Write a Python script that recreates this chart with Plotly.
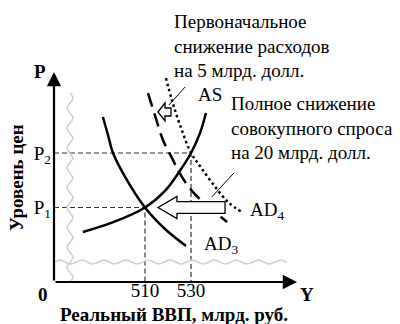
import numpy as np
import plotly.graph_objects as go

FONT = "Liberation Serif"

# ---------------- data (GDP in bn, price level as index: P1=100, P2=120) ----------------
gdp_ticks = [510, 530]
gdp_tick_labels = ["510", "530"]
price_ticks = [100, 120]
price_tick_labels = ["P<sub>1</sub>", "P<sub>2</sub>"]

as_x = [483.0, 496.5, 510.0, 518.7, 524.8, 530.0, 533.9, 536.5]
as_p = [91.0, 94.7, 100.0, 106.1, 113.0, 120.0, 127.3, 134.7]

ad3_x = [491.7, 493.9, 496.1, 500.9, 510.0, 518.7, 527.8]
ad3_p = [133.2, 126.6, 120.0, 111.9, 100.0, 92.1, 85.9]

adm_x = [511.3, 514.3, 517.8, 522.2, 524.8, 530.4, 538.3, 545.7]
adm_p = [142.0, 133.9, 124.8, 117.4, 113.0, 106.1, 99.8, 94.7]

ad4_x = [519.1, 521.7, 525.2, 530.0, 533.9, 539.6, 546.1, 552.2]
ad4_p = [147.5, 139.4, 130.3, 120.0, 115.2, 108.6, 102.0, 98.3]

# axis frame (broken axes)
X0, X_END, X_RIGHT = 470.435, 576.1, 620.87
P0, P_END, P_TOP = 72.661, 149.7, 176.147

fig = go.Figure()

# guide dashed lines
guide = dict(color="#333333", width=1.2, dash="5px,3px")
for gx, gp in zip(gdp_ticks, price_ticks):
    fig.add_trace(go.Scatter(x=[X0, gx, gx], y=[gp, gp, P0], mode="lines",
                             line=guide, hoverinfo="skip"))

# break wiggles (decoration)
t = np.linspace(0, 1, 200)
vy = 142.0 + (P0 - 142.0) * t
vx = 477.4 + 1.3 * np.sin(t * (142.0 - P0) / 7.3 * 2 * np.pi)
fig.add_trace(go.Scatter(x=vx, y=vy, mode="lines",
                         line=dict(color="#cfcfcf", width=1.5), hoverinfo="skip"))
hx = X0 + (571.7 - X0) * t
hy = 80.0 + 0.75 * np.sin(t * (571.7 - X0) / 9.6 * 2 * np.pi)
fig.add_trace(go.Scatter(x=hx, y=hy, mode="lines",
                         line=dict(color="#cfcfcf", width=1.5), hoverinfo="skip"))

# curves
fig.add_trace(go.Scatter(x=as_x, y=as_p, mode="lines", line_shape="spline",
                         line=dict(color="black", width=2.5)))
fig.add_trace(go.Scatter(x=ad3_x, y=ad3_p, mode="lines", line_shape="spline",
                         line=dict(color="black", width=2.5)))
fig.add_trace(go.Scatter(x=adm_x, y=adm_p, mode="lines", line_shape="spline",
                         line=dict(color="black", width=2.5, dash="14px,7px")))
fig.add_trace(go.Scatter(x=ad4_x, y=ad4_p, mode="lines", line_shape="spline",
                         line=dict(color="black", width=2.5, dash="2.5px,3px")))


def block_arrow(tip_x, head_x, tail_x, yc, head_h, shaft_h):
    return (f"M {tip_x},{yc} L {head_x},{yc + head_h} L {head_x},{yc + shaft_h} "
            f"L {tail_x},{yc + shaft_h} L {tail_x},{yc - shaft_h} L {head_x},{yc - shaft_h} "
            f"L {head_x},{yc - head_h} Z")


shapes = [
    dict(type="path", xref="x", yref="y",
         path=block_arrow(515.7, 523.9, 544.8, 100.0, 4.04, 2.13),
         fillcolor="white", line=dict(color="black", width=1.3)),
    dict(type="path", xref="x", yref="y",
         path=block_arrow(515.65, 518.7, 521.3, 135.05, 3.3, 1.47),
         fillcolor="white", line=dict(color="black", width=1.3)),
    dict(type="line", xref="x", yref="y", x0=520.4, y0=137.6, x1=527.4, y1=144.2,
         line=dict(color="black", width=1)),
    dict(type="line", xref="x", yref="y", x0=539.1, y0=103.9, x1=548.7, y1=112.7,
         line=dict(color="black", width=1)),
]

FS = 19
txt = dict(family=FONT, size=FS, color="black")


def paper(px, py):
    # page pixel -> paper fraction of the plot area (page x 54..400, page y 0..282)
    return (px - 54) / 346.0, (282 - py) / 282.0


ann = [
    # axes with arrowheads
    dict(x=X_END, y=P0, ax=X0, ay=P0, axref="x", ayref="y", xref="x", yref="y",
         showarrow=True, arrowhead=2, arrowsize=1.3, arrowwidth=2.2, arrowcolor="black", text=""),
    dict(x=X0, y=P_END, ax=X0, ay=P0, axref="x", ayref="y", xref="x", yref="y",
         showarrow=True, arrowhead=2, arrowsize=1.3, arrowwidth=2.2, arrowcolor="black", text=""),
    dict(x=538.3, y=141.65, text="AS", showarrow=False, font=txt),
    dict(x=554.8, y=98.7, text="AD<sub>4</sub>", showarrow=False, font=txt, xanchor="left"),
    dict(x=534.8, y=86.2, text="AD<sub>3</sub>", showarrow=False, font=txt, xanchor="left"),
    dict(x=521.7, y=172.8, text="Первоначальное<br>снижение расходов<br>на 5 млрд. долл.",
         showarrow=False, font=txt, xanchor="left", yanchor="top", align="left"),
    dict(x=546.5, y=142.7, text="Полное снижение<br>совокупного спроса<br>на 20 млрд. долл.",
         showarrow=False, font=txt, xanchor="left", yanchor="top", align="left"),
]
for a in ann:
    a.setdefault("xref", "x")
    a.setdefault("yref", "y")

for (px, py), text, extra in [
    ((40, 71), "<b>P</b>", {}),
    ((43, 294), "<b>0</b>", {}),
    ((307, 294), "<b>Y</b>", {}),
    ((16, 178), "<b>Уровень цен</b>", {"textangle": -90}),
    ((174, 314), "<b>Реальный ВВП, млрд. руб.</b>", {}),
]:
    xp, yp = paper(px, py)
    d = dict(x=xp, y=yp, xref="paper", yref="paper", text=text, showarrow=False,
             font=txt, xanchor="center", yanchor="middle")
    d.update(extra)
    ann.append(d)

fig.update_layout(
    width=400, height=324,
    margin=dict(l=54, r=0, t=0, b=42, pad=0),
    paper_bgcolor="white", plot_bgcolor="white",
    showlegend=False,
    shapes=shapes, annotations=ann,
    xaxis=dict(range=[X0, X_RIGHT], showgrid=False, zeroline=False, showline=False,
               tickvals=gdp_ticks, ticktext=gdp_tick_labels, ticks="",
               ticklabelstandoff=-5,
               tickfont=txt, automargin=False, fixedrange=True),
    yaxis=dict(range=[P0, P_TOP], showgrid=False, zeroline=False, showline=False,
               tickvals=price_ticks, ticktext=price_tick_labels, ticks="",
               ticklabelstandoff=2,
               tickfont=txt, automargin=False, fixedrange=True),
)

fig.write_html("out.html", config={"displayModeBar": False},
               post_script="document.body.style.margin='0px';")
